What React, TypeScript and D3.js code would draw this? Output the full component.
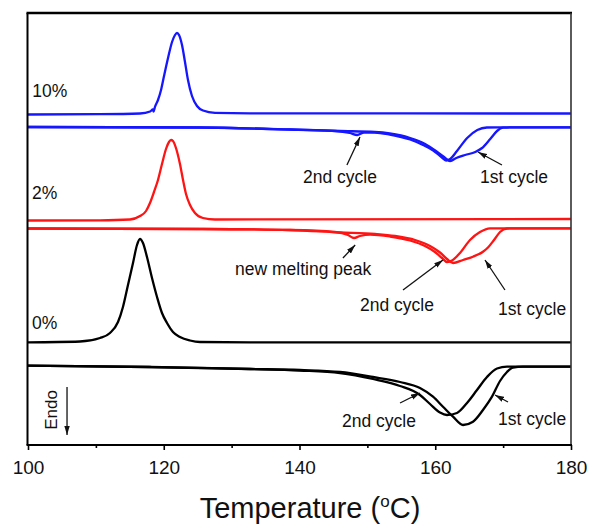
import React, { useEffect, useRef } from 'react'
import * as d3 from 'd3'

// DSC traces, temperature in °C, heat flow in arbitrary units (curves are stacked)
// 10% sample
const t10Cool = [100, 110.6, 116.5, 118, 118.4, 118.5, 118.7, 119.15, 119.6, 120.04, 120.63, 121.22, 121.66, 121.95, 122.25, 122.69, 123.13, 123.57, 124.16, 124.9, 125.78, 127.55, 132.7, 180]
const q10Cool = [33.05, 33.08, 33.15, 33.35, 33.55, 33.35, 33.8, 34.5, 35.5, 36.9, 38.7, 40.3, 41.0, 41.2, 41.0, 40.0, 38.3, 36.5, 34.9, 33.9, 33.45, 33.22, 33.17, 33.15]
const t10Heat2 = [100, 125.3, 138.6, 145.2, 147.4, 148.5, 149.5, 151.1, 153.3, 156.3, 158.2, 159.7, 160.9, 161.6, 162.2, 163.2, 164.7, 166.2, 167.6, 169.5, 180]
const q10Heat2 = [31.8, 31.75, 31.55, 31.4, 31.2, 31.0, 31.25, 31.25, 31.05, 30.55, 30.0, 29.45, 28.8, 28.45, 28.6, 29.4, 30.7, 31.5, 31.75, 31.77, 31.77]
const t10Heat1 = [100, 125.3, 138.6, 146.0, 151.1, 153.3, 156.3, 158.5, 160.1, 161.3, 162.2, 163.1, 164.4, 165.9, 166.9, 168.1, 169.1, 170.0, 171.8, 180]
const q10Heat1 = [31.8, 31.75, 31.55, 31.4, 31.3, 31.15, 30.7, 30.1, 29.4, 28.8, 28.4, 28.7, 29.0, 29.3, 29.7, 30.6, 31.4, 31.73, 31.77, 31.77]

// 2% sample
const t2Cool = [100, 110.61, 115.03, 116.5, 117.39, 117.97, 118.56, 119.15, 119.74, 120.33, 120.77, 121.07, 121.36, 121.8, 122.39, 122.84, 123.28, 123.87, 124.6, 125.78, 127.55, 180]
const q2Cool = [22.45, 22.47, 22.55, 22.9, 23.4, 24.2, 25.3, 26.5, 28.1, 29.6, 30.3, 30.5, 30.4, 29.7, 28.1, 26.5, 25.1, 24.0, 23.2, 22.7, 22.55, 22.6]
const t2Heat2 = [100, 125.3, 138.6, 145.2, 147.15, 148.03, 148.91, 150.39, 153.33, 156.28, 158.49, 159.96, 161.0, 161.73, 162.47, 163.65, 165.12, 166.59, 168.07, 180]
const q2Heat2 = [21.65, 21.6, 21.5, 21.3, 21.0, 20.7, 20.9, 21.05, 20.85, 20.45, 19.9, 19.3, 18.7, 18.3, 18.45, 19.2, 20.5, 21.3, 21.67, 21.67]
const t2Heat1 = [100, 125.3, 138.6, 145.97, 151.12, 154.07, 157.02, 159.23, 160.7, 161.73, 162.62, 164.09, 165.56, 167.03, 167.77, 168.66, 169.54, 170.57, 172.49, 180]
const q2Heat1 = [21.65, 21.6, 21.5, 21.25, 21.1, 20.9, 20.5, 19.9, 19.25, 18.6, 18.2, 18.5, 18.83, 19.33, 19.75, 20.5, 21.3, 21.65, 21.67, 21.67]

// 0% sample
const t0Cool = [100, 107.66, 110.61, 112.08, 113.26, 113.99, 114.73, 115.47, 116.06, 116.5, 116.94, 117.53, 118.27, 119.01, 119.74, 120.48, 121.36, 122.39, 123.87, 125.34, 132.71, 180]
const q0Cool = [10.27, 10.35, 10.7, 11.2, 12.3, 13.8, 16.0, 18.2, 20.0, 20.6, 20.2, 18.8, 16.7, 14.8, 13.2, 12.2, 11.3, 10.8, 10.45, 10.3, 10.27, 10.27]
const t0Heat2 = [100, 117.97, 132.71, 140.07, 145.97, 150.83, 154.81, 157.75, 159.23, 160.7, 161.73, 163.2, 164.68, 166.15, 167.62, 169.1, 170.57, 180]
const q0Heat2 = [7.93, 7.8, 7.6, 7.45, 7.2, 6.6, 5.9, 5.0, 4.1, 3.25, 3.0, 3.2, 4.2, 5.5, 6.8, 7.65, 7.83, 7.83]
const t0Heat1 = [100, 117.97, 132.71, 140.07, 145.97, 150.83, 154.81, 157.75, 159.67, 161.14, 162.62, 164.09, 165.56, 167.03, 168.36, 169.54, 170.57, 171.45, 172.93, 180]
const q0Heat1 = [7.93, 7.8, 7.6, 7.5, 7.3, 6.8, 6.3, 5.7, 4.83, 3.83, 2.83, 2.0, 2.33, 3.5, 4.83, 6.4, 7.3, 7.75, 7.83, 7.83]

const majorTicks = [100, 120, 140, 160, 180]
const minorTicks = [110, 130, 150, 170]

// labels: [text, T, heat flow]
const labels: [string, number, number][] = [
  ['10%', 100.63, 34.8],
  ['2%', 100.59, 24.6],
  ['0%', 100.59, 11.6],
  ['2nd cycle', 140.52, 26.2],
  ['1st cycle', 166.59, 26.2],
  ['new melting peak', 130.5, 17.0],
  ['2nd cycle', 148.91, 13.4],
  ['1st cycle', 169.25, 13.0],
  ['2nd cycle', 146.26, 1.8],
  ['1st cycle', 169.25, 2.0],
]
// arrows: [T tail, q tail, T head, q head]
const arrows: [number, number, number, number][] = [
  [146.99, 28.0, 148.91, 30.8],
  [169.83, 28.0, 166.3, 29.3],
  [146.4, 18.7, 148.2, 20.0],
  [155.25, 15.5, 161.14, 18.5],
  [170.27, 15.5, 167.33, 18.5],
  [154.81, 4.2, 157.75, 5.2],
  [170.72, 4.3, 168.8, 5.0],
  [105.75, 5.8, 105.75, 1.0],
]

const BLUE = '#1616ff'
const RED = '#ff1414'
const FONT = 'Liberation Sans, Arial, Helvetica, sans-serif'

const W = 590, H = 524
const margin = { top: 13, right: 19, bottom: 79, left: 28 }

export default function App() {
  const ref = useRef<SVGSVGElement>(null)

  useEffect(() => {
    const svg = d3.select(ref.current)
    svg.selectAll('*').remove()

    const x = d3.scaleLinear().domain([100, 180]).range([margin.left, W - margin.right])
    const y = d3.scaleLinear().domain([0, 43.2]).range([H - margin.bottom, margin.top])

    const line = d3.line<[number, number]>()
      .x(d => x(d[0]))
      .y(d => y(d[1]))
      .curve(d3.curveMonotoneX)

    const series = [
      { t: t10Cool, q: q10Cool, c: BLUE },
      { t: t10Heat1, q: q10Heat1, c: BLUE },
      { t: t10Heat2, q: q10Heat2, c: BLUE },
      { t: t2Cool, q: q2Cool, c: RED },
      { t: t2Heat1, q: q2Heat1, c: RED },
      { t: t2Heat2, q: q2Heat2, c: RED },
      { t: t0Cool, q: q0Cool, c: '#000' },
      { t: t0Heat1, q: q0Heat1, c: '#000' },
      { t: t0Heat2, q: q0Heat2, c: '#000' },
    ]

    svg.selectAll('path.curve')
      .data(series)
      .enter().append('path')
      .attr('class', 'curve')
      .attr('d', d => line(d.t.map((v, i) => [v, d.q[i]] as [number, number])))
      .attr('fill', 'none')
      .attr('stroke', d => d.c)
      .attr('stroke-width', 2.3)
      .attr('stroke-linejoin', 'round')

    // frame
    const x0 = x(100) - 0.5, x1 = x(180), y0 = y(43.2), y1 = y(0)
    svg.append('line').attr('x1', x0 - 1).attr('x2', x1 + 1).attr('y1', y0).attr('y2', y0).attr('stroke', '#000').attr('stroke-width', 2.6)
    svg.append('line').attr('x1', x0).attr('x2', x0).attr('y1', y0).attr('y2', y1).attr('stroke', '#000').attr('stroke-width', 2)
    svg.append('line').attr('x1', x1).attr('x2', x1).attr('y1', y0).attr('y2', y1).attr('stroke', '#333').attr('stroke-width', 1.6)
    svg.append('line').attr('x1', x0 - 1).attr('x2', x1 + 1).attr('y1', y1).attr('y2', y1).attr('stroke', '#000').attr('stroke-width', 2)

    const gx = svg.append('g').attr('transform', `translate(0,${y1})`)
      .call(d3.axisBottom(x).tickValues(majorTicks).tickSize(5).tickPadding(10.5).tickFormat(d3.format('d')))
    gx.select('.domain').remove()
    gx.selectAll('line').attr('stroke-width', 1.6)
    gx.selectAll('text').attr('font-size', 19).attr('font-family', FONT).attr('fill', '#111')

    const gm = svg.append('g').attr('transform', `translate(0,${y1})`)
      .call(d3.axisBottom(x).tickValues(minorTicks).tickSize(3).tickFormat(() => ''))
    gm.select('.domain').remove()
    gm.selectAll('line').attr('stroke-width', 1.6)

    // axis title
    const title = svg.append('text')
      .attr('x', 310).attr('y', 518)
      .attr('text-anchor', 'middle')
      .attr('font-family', FONT).attr('font-size', 29).attr('fill', '#111')
    title.append('tspan').text('Temperature (')
    title.append('tspan').attr('font-size', 17).attr('dy', -11).text('o')
    title.append('tspan').attr('dy', 11).text('C)')

    // arrowheads
    svg.append('defs').append('marker')
      .attr('id', 'head')
      .attr('viewBox', '0 0 10 6')
      .attr('refX', 10).attr('refY', 3)
      .attr('markerWidth', 9).attr('markerHeight', 6)
      .attr('markerUnits', 'userSpaceOnUse')
      .attr('orient', 'auto')
      .append('path').attr('d', 'M0,0L10,3L0,6Z').attr('fill', '#111')

    svg.selectAll('line.arrow')
      .data(arrows)
      .enter().append('line')
      .attr('class', 'arrow')
      .attr('x1', d => x(d[0])).attr('y1', d => y(d[1]))
      .attr('x2', d => x(d[2])).attr('y2', d => y(d[3]))
      .attr('stroke', '#111').attr('stroke-width', 1.3)
      .attr('marker-end', 'url(#head)')

    svg.selectAll('text.lbl')
      .data(labels)
      .enter().append('text')
      .attr('class', 'lbl')
      .attr('x', d => x(d[1])).attr('y', d => y(d[2]))
      .attr('font-family', FONT).attr('font-size', 17.5).attr('fill', '#111')
      .text(d => d[0])

    svg.append('text')
      .attr('transform', `translate(${x(104.27)},${y(3.5)}) rotate(-90)`)
      .attr('text-anchor', 'middle')
      .attr('font-family', FONT).attr('font-size', 17).attr('fill', '#111')
      .text('Endo')
  }, [])

  return (
    <svg ref={ref} width={W} height={H} style={{ position: 'absolute', left: 0, top: 0, background: '#fff' }} />
  )
}
